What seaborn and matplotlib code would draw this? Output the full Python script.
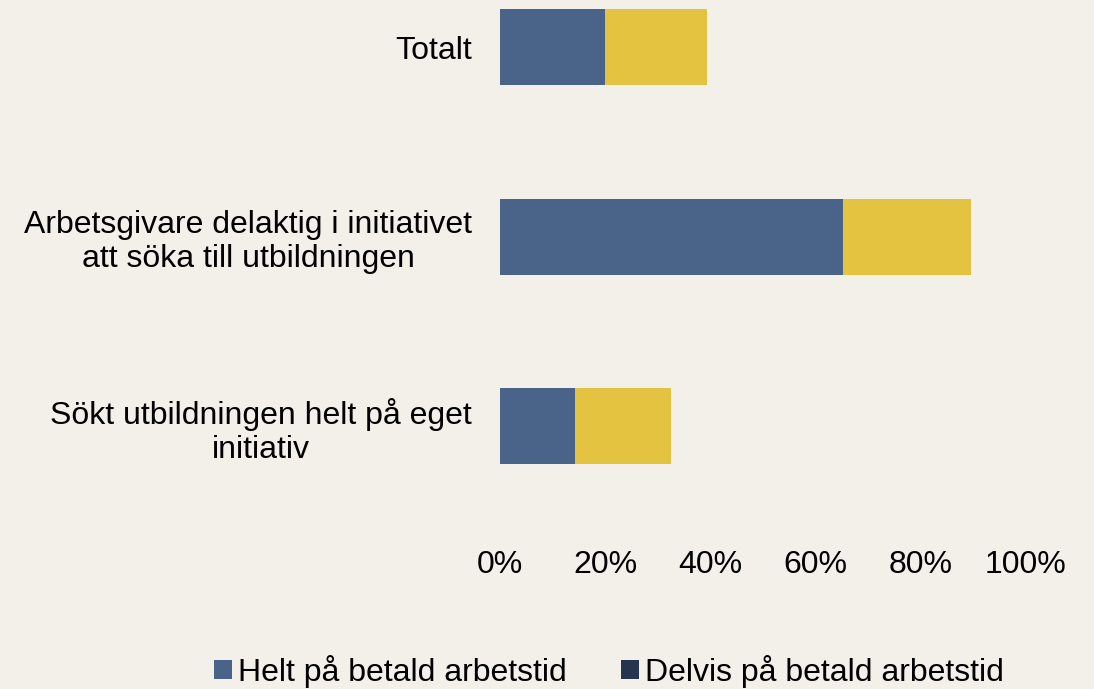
import pandas as pd
import matplotlib.pyplot as plt
import seaborn as sns
from matplotlib.patches import Patch

# Data (percent of respondents)
categories = [
    "Totalt",
    "Arbetsgivare delaktig i initiativet\natt söka till utbildningen",
    "Sökt utbildningen helt på eget\ninitiativ",
]
helt = [20.0, 65.2, 14.3]
delvis = [0.0, 0.0, 0.0]
ovrigt = [19.4, 24.3, 18.2]

series_names = ["Helt på betald arbetstid", "Delvis på betald arbetstid"]
x_ticks = [0, 20, 40, 60, 80, 100]
x_tick_labels = ["0%", "20%", "40%", "60%", "80%", "100%"]

BG = "#F3F0EA"
BLUE = "#4A6389"
NAVY = "#253550"
YELLOW = "#E3C340"
FS = 23

sns.set_theme(style="white")
plt.rcParams["font.family"] = ["Liberation Sans", "DejaVu Sans"]

df = pd.DataFrame({"kategori": categories, "helt": helt,
                   "delvis": delvis, "ovrigt": ovrigt})
df["cum_helt"] = df["helt"]
df["cum_delvis"] = df["helt"] + df["delvis"]
df["cum_total"] = df["cum_delvis"] + df["ovrigt"]

fig = plt.figure(figsize=(10.94, 6.89), dpi=100, facecolor=BG)
ax = fig.add_axes([0.457, 0.2438, 0.4808, 0.7562])
ax.set_facecolor(BG)

# Stacked bars: draw the cumulative totals back to front
for col, colour in [("cum_total", YELLOW), ("cum_delvis", NAVY), ("cum_helt", BLUE)]:
    sns.barplot(data=df, x=col, y="kategori", orient="h", color=colour,
                width=0.4, saturation=1, linewidth=0, ax=ax)

ax.set_xlim(0, 100)
ax.set_ylim(2.5, -0.249)
ax.set_xticks(x_ticks)
ax.set_xticklabels(x_tick_labels, fontsize=FS, color="black")
ax.tick_params(axis="x", length=0, pad=21)
ax.tick_params(axis="y", length=0, pad=20, labelsize=FS, labelcolor="black")
for lbl in ax.get_yticklabels():
    lbl.set_multialignment("center")
    lbl.set_linespacing(1.15)
ax.set_xlabel("")
ax.set_ylabel("")
for side in ax.spines.values():
    side.set_visible(False)
ax.grid(False)

handles = [Patch(facecolor=BLUE, edgecolor="none"),
           Patch(facecolor=NAVY, edgecolor="none")]
leg = fig.legend(handles, series_names, loc="center", bbox_to_anchor=(0.557, 0.026),
                 ncol=2, frameon=False, fontsize=FS, handlelength=0.55,
                 handleheight=0.55, handletextpad=0.2, columnspacing=1.7)
for t in leg.get_texts():
    t.set_color("black")

fig.savefig("out.png", dpi=100, facecolor=BG)
